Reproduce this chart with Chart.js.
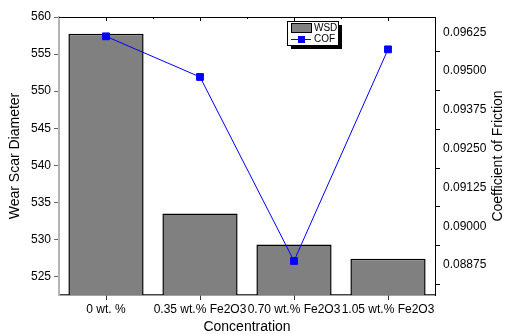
<!DOCTYPE html>
<html>
<head>
<meta charset="utf-8">
<script src="https://cdn.jsdelivr.net/npm/chart.js@4"></script>
<style>
  html, body { margin: 0; padding: 0; background: #fff; }
  #wrap { width: 506px; height: 334px; position: relative; }
</style>
</head>
<body>
<div id="wrap"><canvas id="chart"></canvas></div>
<script>
const categories = ["0 wt. %", "0.35 wt.% Fe2O3", "0.70 wt.% Fe2O3", "1.05 wt.% Fe2O3"];
const wsdValues = [557.75, 533.5, 529.3, 527.4];
const cofValues = [0.09612, 0.09481, 0.08888, 0.09570];
const rightTitle = "Coefficient of Friction";

const FONT = "'Liberation Sans', Arial, sans-serif";

// top frame line + small tick marks, right axis title (reads bottom-to-top), boxed legend with shadow
const framePlugin = {
  id: "frame",
  afterDraw(chart) {
    const { ctx, chartArea: a, scales } = chart;
    ctx.save();
    ctx.strokeStyle = "#000";
    ctx.lineWidth = 1;
    ctx.beginPath();
    ctx.moveTo(a.left, a.top + 0.5);
    ctx.lineTo(a.right, a.top + 0.5);
    const x = scales.x;
    for (let i = 0; i < categories.length; i++) {
      const c = Math.round(x.getPixelForValue(i)) + 0.5;
      ctx.moveTo(c, a.top);
      ctx.lineTo(c, a.top + 4);
      const b = Math.round(x.getPixelForValue(i + 0.5)) + 0.5;
      ctx.moveTo(b, a.top);
      ctx.lineTo(b, a.top + 2);
    }
    ctx.stroke();

    // right title
    ctx.save();
    ctx.translate(scales.y1.right - 8, (a.top + a.bottom) / 2);
    ctx.rotate(-Math.PI / 2);
    ctx.fillStyle = "#000";
    ctx.font = "14px " + FONT;
    ctx.textAlign = "center";
    ctx.textBaseline = "middle";
    ctx.fillText(rightTitle, 0, 0);
    ctx.restore();

    // legend
    const lx = a.right - 148, ly = a.top + 4, lw = 51, lh = 24;
    ctx.fillStyle = "#000";
    ctx.fillRect(lx + 4, ly + 4, lw, lh);
    ctx.fillStyle = "#fff";
    ctx.fillRect(lx, ly, lw, lh);
    ctx.strokeRect(lx + 0.5, ly + 0.5, lw, lh);
    ctx.fillStyle = "#808080";
    ctx.fillRect(lx + 4, ly + 2, 20, 9);
    ctx.strokeRect(lx + 4.5, ly + 2.5, 20, 9);
    ctx.strokeStyle = "#0000ff";
    ctx.beginPath();
    ctx.moveTo(lx + 4, ly + 18.5);
    ctx.lineTo(lx + 24, ly + 18.5);
    ctx.stroke();
    ctx.fillStyle = "#0000ff";
    ctx.fillRect(lx + 11, ly + 15, 7, 7);
    ctx.fillStyle = "#000";
    ctx.font = "10px " + FONT;
    ctx.textBaseline = "middle";
    ctx.fillText("WSD", lx + 27, ly + 7);
    ctx.fillText("COF", lx + 27, ly + 18.5);
    ctx.restore();
  },
};

new Chart(document.getElementById("chart"), {
  data: {
    labels: categories,
    datasets: [
      {
        type: "line",
        label: "COF",
        data: cofValues,
        yAxisID: "y1",
        borderColor: "#0000ff",
        backgroundColor: "#0000ff",
        borderWidth: 1,
        pointStyle: "rect",
        pointRadius: 4.8,
        tension: 0,
        order: 0,
      },
      {
        type: "bar",
        label: "WSD",
        data: wsdValues,
        yAxisID: "y",
        backgroundColor: "#808080",
        borderColor: "#000",
        borderWidth: 1.5,
        borderSkipped: false,
        barPercentage: 0.8,
        categoryPercentage: 1,
        order: 1,
      },
    ],
  },
  plugins: [framePlugin],
  options: {
    responsive: true,
    maintainAspectRatio: false,
    animation: false,
    layout: { padding: { top: 17, left: 0, right: 0, bottom: 0 } },
    plugins: { legend: { display: false }, tooltip: { enabled: false } },
    scales: {
      x: {
        offset: true,
        afterFit: s => { s.height = 39; },
        grid: { offset: false, drawOnChartArea: false, tickLength: 5, color: "#333", tickColor: "#333" },
        border: { color: "#444", width: 1.5 },
        ticks: { color: "#000", font: { family: FONT, size: 12 }, padding: 2, maxRotation: 0, autoSkip: false },
        title: { display: true, text: "Concentration", color: "#000", font: { family: FONT, size: 14, lineHeight: 1 }, padding: 0 },
      },
      y: {
        position: "left",
        min: 522.5,
        max: 560,
        afterFit: s => { s.width = 59; },
        grid: {
          drawOnChartArea: false,
          tickLength: 5,
          tickColor: c => (Math.abs(c.tick.value % 5) < 0.01 ? "#666" : "rgba(0,0,0,0)"),
        },
        border: { color: "#b4b4b4", width: 2 },
        ticks: {
          stepSize: 2.5,
          includeBounds: false,
          color: "#000",
          font: { family: FONT, size: 12 },
          padding: 3,
          callback: v => (Math.abs(v % 5) < 0.01 ? v : ""),
        },
        title: { display: true, text: "Wear Scar Diameter", color: "#000", font: { family: FONT, size: 14, lineHeight: 1 }, padding: { top: 8, bottom: 0 } },
      },
      y1: {
        position: "right",
        min: 0.087783,
        max: 0.096743,
        afterFit: s => { s.width = 71; },
        grid: {
          drawOnChartArea: false,
          tickLength: 5,
          tickColor: c => (Math.round(c.tick.value / 0.000625) % 2 === 1 ? "#000" : "rgba(0,0,0,0)"),
        },
        border: { color: "#000", width: 1 },
        ticks: {
          stepSize: 0.000625,
          includeBounds: false,
          color: "#000",
          font: { family: FONT, size: 12 },
          padding: 3,
          callback: v => (Math.round(v / 0.000625) % 2 === 0 ? v.toFixed(5) : ""),
        },
        title: { display: false },
      },
    },
  },
});
</script>
</body>
</html>
